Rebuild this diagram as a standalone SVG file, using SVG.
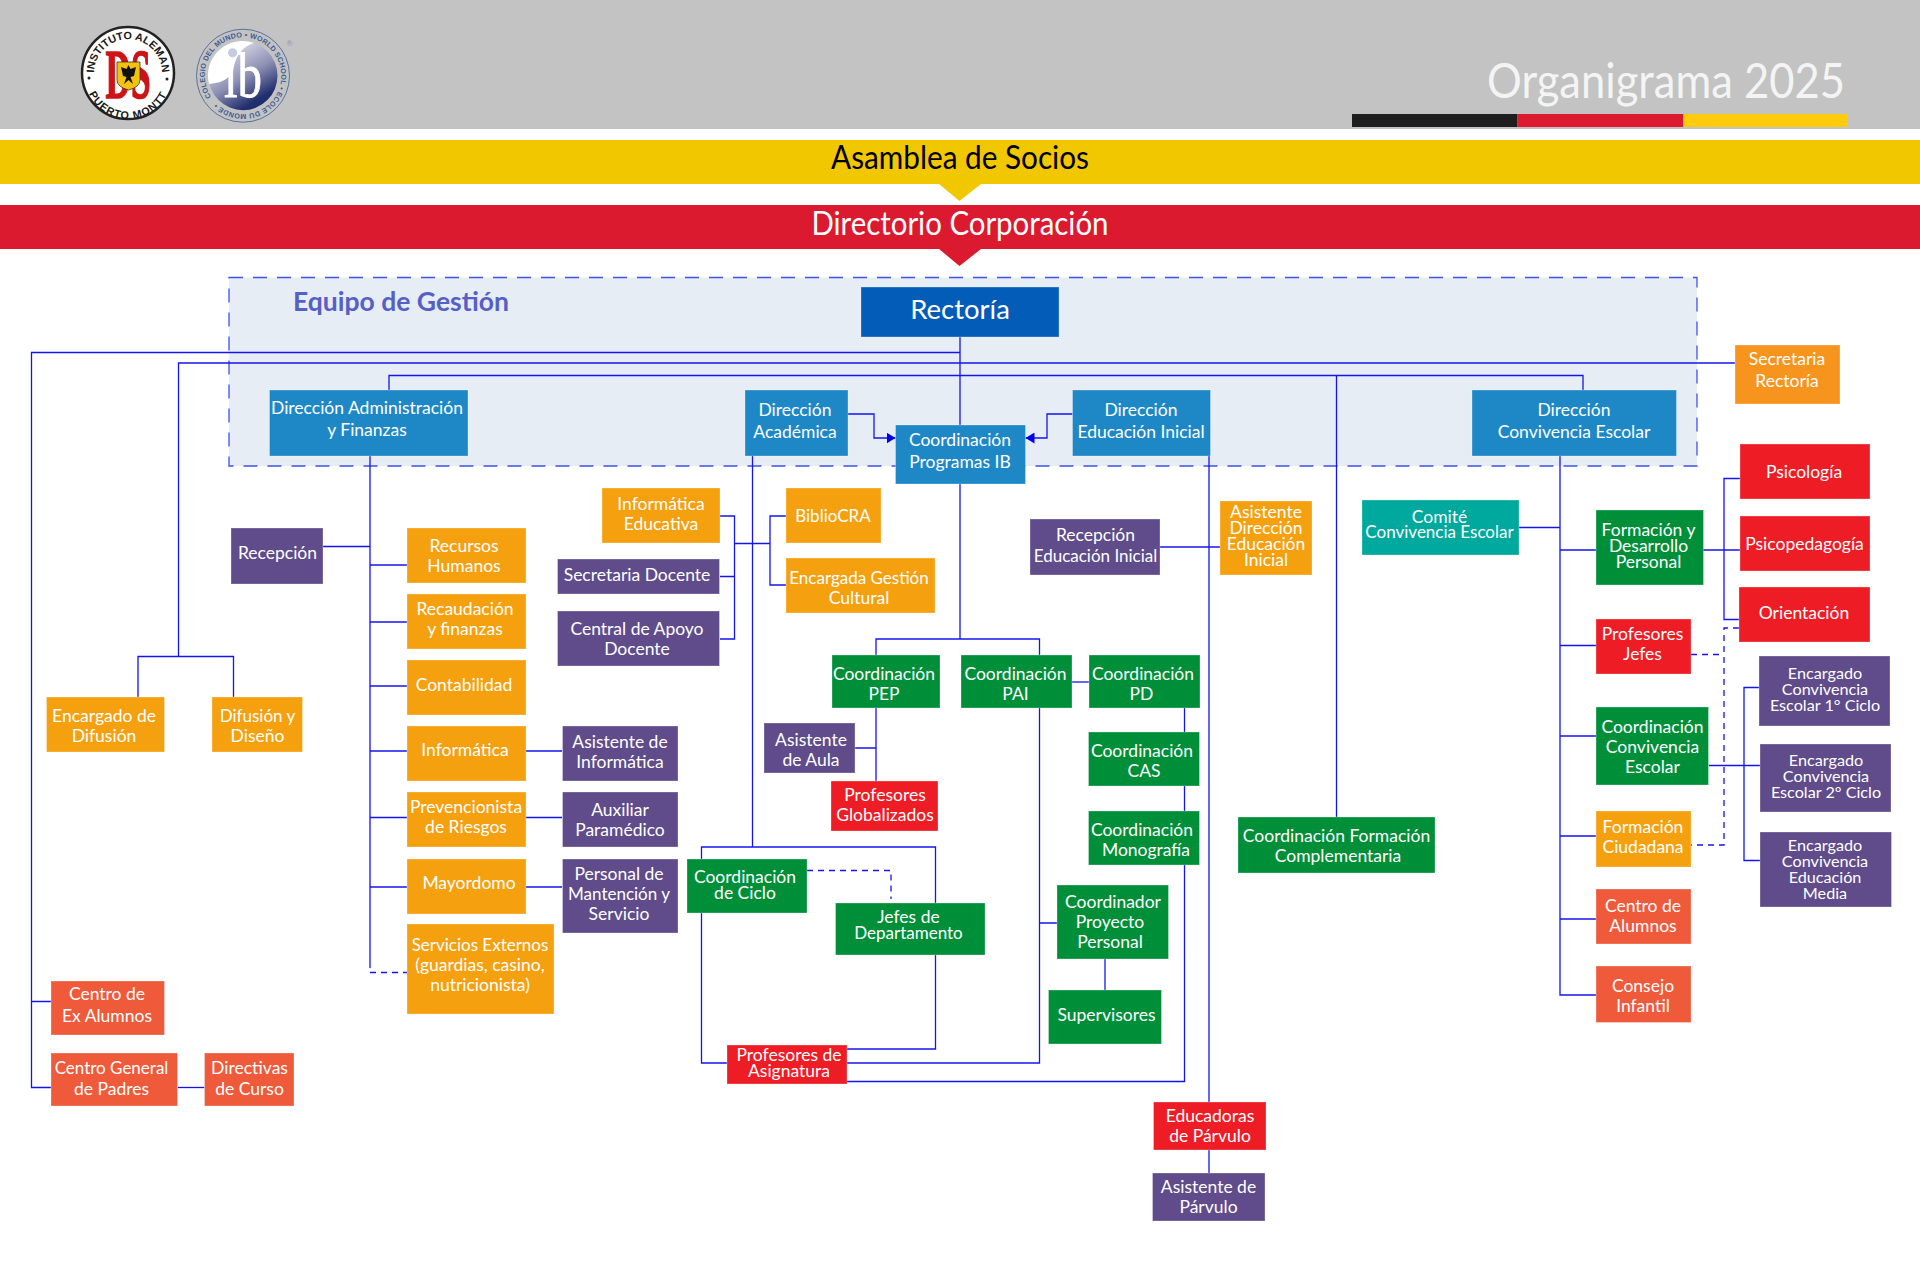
<svg xmlns="http://www.w3.org/2000/svg" width="1920" height="1275" viewBox="0 0 1920 1275">
<style>
text{font-family:"Lato","Noto Sans","Liberation Sans",sans-serif;fill:#fff;text-anchor:middle;font-size:17.5px}
.node rect{stroke:#fff;stroke-opacity:.3;stroke-width:1}
.blue rect{fill:#1E88C7}.orange rect{fill:#F5A00F}.purple rect{fill:#604C8A}.green rect{fill:#008F39}.red rect{fill:#EE1C25}.coral rect{fill:#EE5A3A}.teal rect{fill:#00A99D}
#connectors path{fill:none;stroke:#1414f0;stroke-width:1.3}
#connectors path.dash{stroke-dasharray:6 5}
.ring{font-family:"Liberation Sans",sans-serif;font-weight:700;fill:#1a1a1a;text-anchor:middle;font-size:10.8px}
.small text{font-size:16.2px}
</style>
<defs>
<marker id="arrowhead" markerUnits="userSpaceOnUse" markerWidth="10" markerHeight="11" refX="9" refY="5.5" orient="auto"><path d="M0 0L9 5.5L0 11Z" fill="#0000e6"/></marker>
<linearGradient id="ibdisc" x1=".25" y1=".05" x2=".8" y2=".98"><stop offset="0" stop-color="#e4e6ef"/><stop offset=".5" stop-color="#8d90b3"/><stop offset=".85" stop-color="#22306f"/><stop offset="1" stop-color="#1a2a66"/></linearGradient>
<path id="logoTop" d="M96 84.6A34 34 0 1 1 160 84.6"/>
<path id="logoBot" d="M85 76A43 43 0 0 0 171 76"/>
<path id="ibRing" d="M211.4 96.8A38 38 0 1 1 274.6 54.6A38 38 0 1 1 211.4 96.8"/>
</defs>
<rect width="1920" height="1275" fill="#fff"/>
<g id="header">
<rect width="1920" height="129" fill="#C3C3C3"/>
<rect x="1352" y="114" width="165.5" height="13" fill="#1E1E1E"/>
<rect x="1517.5" y="114" width="165.5" height="13" fill="#DC1A30"/>
<rect x="1683" y="114" width="165" height="13" fill="#FFCB0D"/>
<text x="1666" y="98" style="font-size:49px;fill:#f4f4f4" textLength="358" lengthAdjust="spacingAndGlyphs">Organigrama 2025</text>
</g>
<g id="logo-instituto">
<circle cx="128" cy="73" r="46" fill="#fff" stroke="#222" stroke-width="2.5"/>
<text class="ring"><textPath href="#logoTop" startOffset="50%">INSTITUTO ALEMAN</textPath></text>
<text class="ring" style="letter-spacing:1px"><textPath href="#logoBot" startOffset="50%">PUERTO MONTT</textPath></text>
<circle cx="89" cy="78" r="1.5" fill="#222"/><circle cx="167" cy="79" r="1.5" fill="#222"/>
<text x="128" y="98" style="font-family:'Liberation Serif',serif;font-weight:700;font-size:70px;fill:#CE1316;stroke:#CE1316;stroke-width:1.6" textLength="45" lengthAdjust="spacingAndGlyphs">DS</text>
<path d="M117 62H140V80Q140 87 128.5 90Q117 87 117 80Z" fill="#F4C20D" stroke="#333" stroke-width=".8"/>
<path d="M128.5 65L130.5 69L136 67L134 76L130.5 77L133 84L128.5 80L124 84L126.5 77L123 76L121 67L126.5 69Z" fill="#111"/>
</g>
<g id="logo-ib">
<circle cx="243" cy="75.7" r="46.5" fill="none" stroke="#3E5B94" stroke-width="1" stroke-opacity=".8"/>
<circle cx="243" cy="75.7" r="34.5" fill="url(#ibdisc)"/>
<path d="M209 84A34.5 34.5 0 0 1 254 43Q238 48 234 66Q232 82 209 84Z" fill="#fff"/>
<text x="243" y="97" style="font-family:'Liberation Serif',serif;font-size:64px;stroke:#fff;stroke-width:.8" textLength="38" lengthAdjust="spacingAndGlyphs">ib</text>
<circle cx="232.6" cy="52.8" r="4.6" fill="#c6cbe2"/>
<text style="font-family:'Liberation Sans',sans-serif;font-weight:700;font-size:7.2px;fill:#3E5B94;text-anchor:start" textLength="232"><textPath href="#ibRing">COLEGIO DEL MUNDO • WORLD SCHOOL • ECOLE DU MONDE •</textPath></text>
<text x="289.7" y="46" style="font-size:8px;fill:#8a9bbf">®</text>
</g>
<g id="asamblea">
<rect y="140" width="1920" height="44" fill="#F1C700"/>
<path d="M939 184H981L959.5 201Z" fill="#F1C700"/>
<text x="960" y="169" style="font-size:32px;fill:#000" textLength="258" lengthAdjust="spacingAndGlyphs">Asamblea de Socios</text>
</g>
<g id="directorio">
<rect y="205" width="1920" height="44" fill="#DB1A30"/>
<path d="M939 249H981L959.5 266Z" fill="#DB1A30"/>
<text x="960" y="234.5" style="font-size:32px" textLength="297" lengthAdjust="spacingAndGlyphs">Directorio Corporación</text>
</g>
<g id="equipo-gestion">
<rect x="229" y="277.5" width="1468" height="188.5" fill="#E7EDF5" stroke="#3c50f0" stroke-width="1.3" stroke-dasharray="14 10"/>
<text x="401" y="310.5" style="font-size:27.5px;font-weight:700;fill:#5560C6" textLength="216" lengthAdjust="spacingAndGlyphs">Equipo de Gestión</text>
</g>
<g id="connectors">
<path d="M960 337V425"/>
<path d="M960 352.5H31.5V1087.5H51M31.5 1001.5H51"/>
<path d="M1735 363H178.5V656.5M138 697V656.5H233.5V697"/>
<path d="M389 390V375.5H1583V390M1336.5 375.5V817"/>
<path d="M370 456V968"/>
<path class="dash" d="M370 972.5H407"/>
<path d="M323 546.5H370M370 565H407M370 622H407M370 686H407M370 751H562M370 817.5H562M370 887H562"/>
<path d="M752.5 456V847"/>
<path d="M701.5 859V847H935.5V903M701.5 913V1063H727M935.5 955V1049H847"/>
<path d="M1039.5 708V1063H847M1039.5 923H1057"/>
<path d="M1184.5 708V1081.5H847"/>
<path d="M1105 959V990"/>
<path d="M1209 456V1102M1209 1150V1173"/>
<path d="M1160 547H1220"/>
<path d="M960 484V639M876 655V639H1039.5V655"/>
<path d="M876 708V781M855 748H876"/>
<path d="M1072 682H1089"/>
<path d="M720 516H734.5V639H720M720 576.5H734.5M734.5 543.5H770M786 516H770V585H786"/>
<path d="M848 414H874V438H895.5" marker-end="url(#arrowhead)"/>
<path d="M1072.5 414H1047V438H1025.5" marker-end="url(#arrowhead)"/>
<path d="M1560 456V995H1596M1519 527.5H1560M1560 550H1740M1560 645.5H1596M1560 736H1596M1560 836H1596M1560 919H1596"/>
<path d="M1740 478.5H1724V619.5H1739"/>
<path class="dash" d="M1691 654.5H1724M1739 628H1724V845H1691"/>
<path d="M1709 765.5H1760M1759 687.5H1744V860.5H1760"/>
<path class="dash" d="M807 870.5H891V899"/>
<path d="M177.5 1087.5H204.5"/>
</g>
<g id="rectoria" class="node"><rect x="861" y="287" width="198" height="50" fill="#035CB8"/><text x="960" y="318.5" style="font-size:27.5px">Rectoría</text></g>
<g id="dir-admin" class="node blue"><rect x="269.5" y="390" width="198.5" height="66"/><text x="367" y="414">Dirección Administración</text><text x="367" y="436">y Finanzas</text></g>
<g id="dir-academica" class="node blue"><rect x="745" y="390" width="103" height="66"/><text x="795" y="416">Dirección</text><text x="795" y="438">Académica</text></g>
<g id="coord-ib" class="node blue"><rect x="895.5" y="425" width="130" height="59"/><text x="960" y="446">Coordinación</text><text x="960" y="468">Programas IB</text></g>
<g id="dir-inicial" class="node blue"><rect x="1072.5" y="390" width="138" height="66"/><text x="1141" y="416">Dirección</text><text x="1141" y="438">Educación Inicial</text></g>
<g id="dir-convivencia" class="node blue"><rect x="1472" y="390" width="204.5" height="66"/><text x="1574" y="416">Dirección</text><text x="1574" y="438">Convivencia Escolar</text></g>
<g id="secretaria-rectoria" class="node"><rect x="1735" y="345" width="105" height="59" fill="#F7941E"/><text x="1787" y="365">Secretaria</text><text x="1787" y="387">Rectoría</text></g>
<g id="psicologia" class="node red"><rect x="1740" y="444" width="130" height="55"/><text x="1804" y="478">Psicología</text></g>
<g id="psicopedagogia" class="node red"><rect x="1740" y="516" width="130" height="55"/><text x="1804.5" y="550">Psicopedagogía</text></g>
<g id="orientacion" class="node red"><rect x="1739" y="587" width="131" height="55"/><text x="1804" y="619">Orientación</text></g>
<g id="formacion-desarrollo" class="node green"><rect x="1596" y="510" width="107.5" height="75"/><text x="1648.5" y="536">Formación y</text><text x="1648.5" y="552">Desarrollo</text><text x="1648.5" y="568">Personal</text></g>
<g id="profesores-jefes" class="node red"><rect x="1596" y="619" width="95" height="55"/><text x="1642.5" y="640">Profesores</text><text x="1642.5" y="660">Jefes</text></g>
<g id="coord-convivencia" class="node green"><rect x="1596" y="707" width="112.5" height="78"/><text x="1652.5" y="733">Coordinación</text><text x="1652.5" y="753">Convivencia</text><text x="1652.5" y="773">Escolar</text></g>
<g id="formacion-ciudadana" class="node orange"><rect x="1596" y="811" width="95" height="56"/><text x="1643" y="833">Formación</text><text x="1643" y="853">Ciudadana</text></g>
<g id="centro-alumnos" class="node coral"><rect x="1596" y="889" width="95" height="55"/><text x="1643" y="912">Centro de</text><text x="1643" y="932">Alumnos</text></g>
<g id="consejo-infantil" class="node coral"><rect x="1596" y="966" width="95" height="56.5"/><text x="1643" y="992">Consejo</text><text x="1643" y="1012">Infantil</text></g>
<g id="encargado-1" class="node purple small"><rect x="1759" y="656" width="131" height="70"/><text x="1825" y="679">Encargado</text><text x="1825" y="695">Convivencia</text><text x="1825" y="711">Escolar 1° Ciclo</text></g>
<g id="encargado-2" class="node purple small"><rect x="1760" y="744" width="131" height="68"/><text x="1826" y="766">Encargado</text><text x="1826" y="782">Convivencia</text><text x="1826" y="798">Escolar 2° Ciclo</text></g>
<g id="encargado-media" class="node purple small"><rect x="1760" y="832" width="131.5" height="75"/><text x="1825" y="851">Encargado</text><text x="1825" y="867">Convivencia</text><text x="1825" y="883">Educación</text><text x="1825" y="899">Media</text></g>
<g id="comite" class="node teal"><rect x="1362" y="500" width="157" height="55"/><text x="1439.5" y="523">Comité</text><text x="1439.5" y="538" style="font-size:17px">Convivencia Escolar</text></g>
<g id="formacion-complementaria" class="node green"><rect x="1238" y="817" width="197" height="56"/><text x="1336.5" y="842">Coordinación Formación</text><text x="1338" y="862">Complementaria</text></g>
<g id="asistente-inicial" class="node orange"><rect x="1220" y="501" width="92" height="74"/><text x="1266" y="518">Asistente</text><text x="1266" y="534">Dirección</text><text x="1266" y="550">Educación</text><text x="1266" y="566">Inicial</text></g>
<g id="recepcion-inicial" class="node purple"><rect x="1030" y="519" width="130" height="56"/><text x="1095.5" y="541">Recepción</text><text x="1095.5" y="562" style="font-size:17px">Educación Inicial</text></g>
<g id="bibliocra" class="node orange"><rect x="786" y="488" width="95" height="55"/><text x="833" y="522" style="font-size:17px">BiblioCRA</text></g>
<g id="gestion-cultural" class="node orange"><rect x="786" y="558" width="149" height="55"/><text x="859" y="584" style="font-size:17px">Encargada Gestión</text><text x="859" y="604">Cultural</text></g>
<g id="info-educativa" class="node orange"><rect x="602" y="488" width="118" height="55"/><text x="661" y="510">Informática</text><text x="661" y="530">Educativa</text></g>
<g id="secretaria-docente" class="node purple"><rect x="557.5" y="559" width="162" height="35"/><text x="637" y="581">Secretaria Docente</text></g>
<g id="central-apoyo" class="node purple"><rect x="557.5" y="611" width="162" height="55"/><text x="637" y="635">Central de Apoyo</text><text x="637" y="655">Docente</text></g>
<g id="recepcion" class="node purple"><rect x="231" y="528" width="92" height="56"/><text x="277.5" y="559">Recepción</text></g>
<g id="rrhh" class="node orange"><rect x="407" y="528" width="119" height="55"/><text x="464" y="552">Recursos</text><text x="464" y="572">Humanos</text></g>
<g id="recaudacion" class="node orange"><rect x="407" y="594" width="119" height="55"/><text x="465" y="615">Recaudación</text><text x="465" y="635">y finanzas</text></g>
<g id="contabilidad" class="node orange"><rect x="407" y="660" width="119" height="55"/><text x="464" y="691">Contabilidad</text></g>
<g id="informatica" class="node orange"><rect x="407" y="726" width="119" height="55"/><text x="465" y="756">Informática</text></g>
<g id="prevencionista" class="node orange"><rect x="407" y="792" width="119" height="55"/><text x="466" y="813">Prevencionista</text><text x="466" y="833">de Riesgos</text></g>
<g id="mayordomo" class="node orange"><rect x="407" y="859" width="119" height="55"/><text x="469" y="889">Mayordomo</text></g>
<g id="servicios-externos" class="node orange"><rect x="407" y="924" width="147" height="90"/><text x="480" y="951" style="font-size:17px">Servicios Externos</text><text x="480" y="971">(guardias, casino,</text><text x="480" y="991">nutricionista)</text></g>
<g id="asistente-informatica" class="node purple"><rect x="562.5" y="726" width="115.5" height="55"/><text x="620" y="748">Asistente de</text><text x="620" y="768">Informática</text></g>
<g id="auxiliar-paramedico" class="node purple"><rect x="562.5" y="792" width="115.5" height="55"/><text x="620" y="816">Auxiliar</text><text x="620" y="836">Paramédico</text></g>
<g id="personal-mantencion" class="node purple"><rect x="562.5" y="859" width="115.5" height="74"/><text x="619" y="880">Personal de</text><text x="619" y="900" style="font-size:17px">Mantención y</text><text x="619" y="920">Servicio</text></g>
<g id="encargado-difusion" class="node orange"><rect x="46.5" y="697" width="118" height="55"/><text x="104" y="722">Encargado de</text><text x="104" y="742">Difusión</text></g>
<g id="difusion-diseno" class="node orange"><rect x="212" y="697" width="90.5" height="55"/><text x="257.5" y="722" style="font-size:17px">Difusión y</text><text x="257.5" y="742">Diseño</text></g>
<g id="ex-alumnos" class="node coral"><rect x="51" y="981" width="113.5" height="54"/><text x="107" y="1000">Centro de</text><text x="107" y="1022">Ex Alumnos</text></g>
<g id="centro-padres" class="node coral"><rect x="51" y="1053" width="126.5" height="53"/><text x="111.5" y="1074" style="font-size:17px">Centro General</text><text x="111.5" y="1095">de Padres</text></g>
<g id="directivas-curso" class="node coral"><rect x="204.5" y="1053" width="89.5" height="53"/><text x="249.5" y="1074">Directivas</text><text x="249.5" y="1095">de Curso</text></g>
<g id="coord-pep" class="node green"><rect x="832" y="655" width="108" height="53"/><text x="884" y="680">Coordinación</text><text x="884" y="700">PEP</text></g>
<g id="coord-pai" class="node green"><rect x="961" y="655" width="111" height="53"/><text x="1015.5" y="680">Coordinación</text><text x="1015.5" y="700">PAI</text></g>
<g id="coord-pd" class="node green"><rect x="1089" y="655" width="111" height="53"/><text x="1143" y="680">Coordinación</text><text x="1141.5" y="700">PD</text></g>
<g id="coord-cas" class="node green"><rect x="1088.5" y="732" width="111" height="54"/><text x="1142" y="757">Coordinación</text><text x="1144" y="777">CAS</text></g>
<g id="coord-monografia" class="node green"><rect x="1088.5" y="811" width="111" height="54"/><text x="1142" y="836">Coordinación</text><text x="1146" y="856">Monografía</text></g>
<g id="coord-proyecto" class="node green"><rect x="1057" y="885" width="111.5" height="74"/><text x="1113" y="908">Coordinador</text><text x="1110" y="928">Proyecto</text><text x="1110" y="948">Personal</text></g>
<g id="supervisores" class="node green"><rect x="1048.5" y="990" width="113" height="54"/><text x="1106.5" y="1021">Supervisores</text></g>
<g id="asistente-aula" class="node purple"><rect x="764" y="723" width="91" height="50"/><text x="811" y="746">Asistente</text><text x="811" y="766">de Aula</text></g>
<g id="profesores-globalizados" class="node red"><rect x="831" y="781" width="107" height="50"/><text x="885" y="801">Profesores</text><text x="885" y="821">Globalizados</text></g>
<g id="coord-ciclo" class="node green"><rect x="687" y="859" width="120" height="54"/><text x="745" y="883">Coordinación</text><text x="745" y="899">de Ciclo</text></g>
<g id="jefes-depto" class="node green"><rect x="835.5" y="903" width="149.5" height="52"/><text x="908.5" y="923">Jefes de</text><text x="908.5" y="939" style="font-size:17px">Departamento</text></g>
<g id="profesores-asignatura" class="node red"><rect x="727" y="1045" width="120" height="39"/><text x="789" y="1061">Profesores de</text><text x="789" y="1077">Asignatura</text></g>
<g id="educadoras" class="node red"><rect x="1153.5" y="1102" width="112.5" height="48"/><text x="1210" y="1122">Educadoras</text><text x="1210" y="1142">de Párvulo</text></g>
<g id="asistente-parvulo" class="node purple"><rect x="1152.5" y="1173" width="112.5" height="48"/><text x="1208.5" y="1193">Asistente de</text><text x="1208.5" y="1213">Párvulo</text></g>
</svg>
